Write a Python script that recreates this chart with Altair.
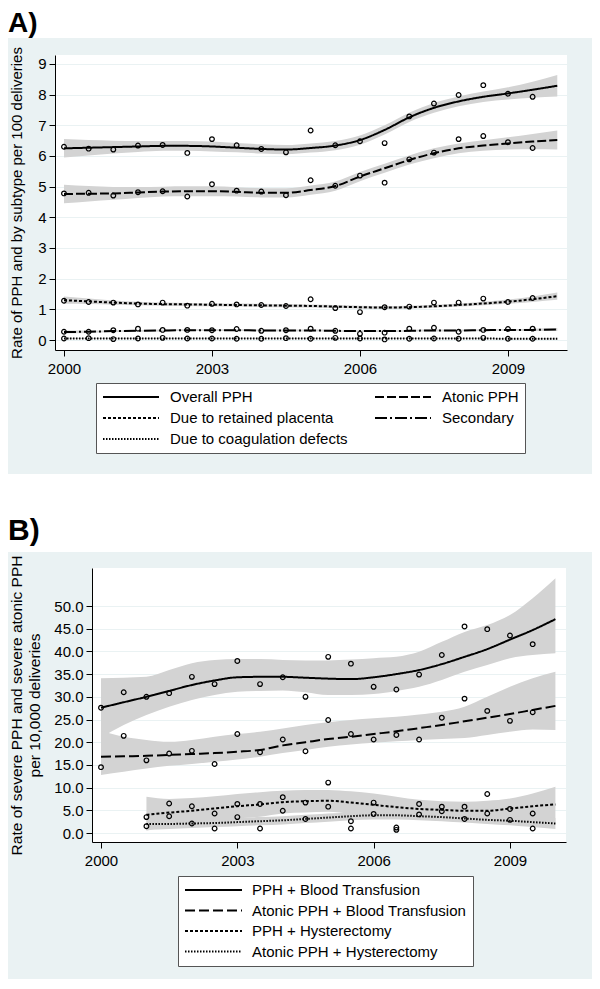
import altair as alt
import pandas as pd

FONT = "Liberation Sans"
BG = "#EAF2F3"
BAND = "#D3D3D3"

PANEL_TITLES = ["A)", "B)"]

# ---------------- Panel A ----------------
A_YTITLE = "Rate of PPH and by subtype per 100 deliveries"
# legend order (filled column by column): Overall, retained, coagulation | atonic, secondary
A_SERIES = ["Overall PPH", "Due to retained placenta", "Due to coagulation defects",
            "Atonic PPH", "Secondary"]
A_DASH = [[1, 0], [3, 2], [1.5, 1.5], [9, 3], [12, 3, 2, 3]]

A_PT_YEARS = [2000.0, 2000.5, 2001.0, 2001.5, 2002.0, 2002.5, 2003.0, 2003.5, 2004.0, 2004.5,
              2005.0, 2005.5, 2006.0, 2006.5, 2007.0, 2007.5, 2008.0, 2008.5, 2009.0, 2009.5]
A_FIT_YEARS = [2000.0, 2000.5, 2001.0, 2001.5, 2002.0, 2002.5, 2003.0, 2003.5, 2004.0, 2004.5,
               2005.0, 2005.5, 2006.0, 2006.5, 2007.0, 2007.5, 2008.0, 2008.5, 2009.0, 2009.5, 2010.0]

overall_pts = [6.30, 6.24, 6.21, 6.34, 6.36, 6.10, 6.55, 6.35, 6.23, 6.12,
               6.83, 6.35, 6.48, 6.42, 7.29, 7.71, 7.99, 8.31, 8.03, 7.93]
atonic_pts = [4.78, 4.80, 4.71, 4.82, 4.85, 4.68, 5.08, 4.87, 4.84, 4.72,
              5.21, 5.03, 5.36, 5.13, 5.89, 6.11, 6.55, 6.65, 6.45, 6.26]
retained_pts = [1.28, 1.24, 1.22, 1.16, 1.22, 1.12, 1.18, 1.16, 1.14, 1.11,
                1.33, 1.04, 0.91, 1.07, 1.09, 1.22, 1.22, 1.35, 1.24, 1.37]
secondary_pts = [0.27, 0.27, 0.32, 0.37, 0.33, 0.33, 0.32, 0.36, 0.30, 0.32,
                 0.37, 0.30, 0.20, 0.24, 0.37, 0.40, 0.27, 0.33, 0.36, 0.37]
coag_pts = [0.05, 0.06, 0.03, 0.05, 0.07, 0.05, 0.05, 0.04, 0.04, 0.06,
            0.04, 0.07, 0.05, 0.02, 0.04, 0.05, 0.04, 0.07, 0.04, 0.04]

overall_fit = [6.25, 6.27, 6.29, 6.31, 6.33, 6.33, 6.31, 6.27, 6.23, 6.21, 6.26,
               6.34, 6.52, 6.85, 7.26, 7.57, 7.78, 7.93, 8.04, 8.16, 8.29]
overall_hi = [6.55, 6.52, 6.50, 6.49, 6.49, 6.49, 6.47, 6.42, 6.38, 6.36, 6.41,
              6.49, 6.67, 7.00, 7.41, 7.73, 7.94, 8.10, 8.24, 8.42, 8.64]
overall_lo = [5.95, 6.02, 6.08, 6.13, 6.17, 6.17, 6.15, 6.12, 6.08, 6.06, 6.11,
              6.19, 6.37, 6.70, 7.11, 7.41, 7.62, 7.76, 7.84, 7.90, 7.94]
atonic_fit = [4.76, 4.77, 4.78, 4.81, 4.84, 4.85, 4.85, 4.83, 4.80, 4.80, 4.89,
              5.02, 5.33, 5.60, 5.87, 6.09, 6.25, 6.34, 6.41, 6.47, 6.52]
atonic_hi = [5.06, 5.02, 4.99, 4.99, 5.00, 5.01, 5.01, 4.98, 4.95, 4.95, 5.04,
             5.17, 5.48, 5.75, 6.02, 6.25, 6.41, 6.51, 6.61, 6.72, 6.83]
atonic_lo = [4.46, 4.52, 4.57, 4.63, 4.68, 4.69, 4.69, 4.68, 4.65, 4.65, 4.74,
             4.87, 5.18, 5.45, 5.72, 5.93, 6.09, 6.17, 6.21, 6.22, 6.21]
retained_fit = [1.30, 1.26, 1.22, 1.19, 1.17, 1.16, 1.15, 1.14, 1.13, 1.12, 1.11,
                1.09, 1.07, 1.06, 1.07, 1.10, 1.14, 1.19, 1.25, 1.33, 1.43]
retained_hi = [1.42, 1.35, 1.29, 1.25, 1.22, 1.21, 1.20, 1.19, 1.18, 1.17, 1.16,
               1.14, 1.12, 1.11, 1.12, 1.15, 1.19, 1.25, 1.32, 1.42, 1.55]
retained_lo = [1.18, 1.17, 1.15, 1.13, 1.12, 1.11, 1.10, 1.09, 1.08, 1.07, 1.06,
               1.04, 1.02, 1.01, 1.02, 1.05, 1.09, 1.13, 1.18, 1.24, 1.31]
secondary_fit = [0.26, 0.27, 0.29, 0.30, 0.31, 0.32, 0.32, 0.32, 0.31, 0.31, 0.31,
                 0.30, 0.29, 0.29, 0.30, 0.31, 0.31, 0.32, 0.33, 0.33, 0.34]
secondary_hi = [0.31, 0.31, 0.32, 0.33, 0.34, 0.35, 0.35, 0.35, 0.34, 0.34, 0.34,
                0.33, 0.32, 0.32, 0.33, 0.34, 0.34, 0.35, 0.36, 0.37, 0.39]
secondary_lo = [0.21, 0.23, 0.26, 0.27, 0.28, 0.29, 0.29, 0.29, 0.28, 0.28, 0.28,
                0.27, 0.26, 0.26, 0.27, 0.28, 0.28, 0.29, 0.30, 0.29, 0.29]
coag_fit = [0.05, 0.05, 0.05, 0.05, 0.05, 0.05, 0.05, 0.05, 0.05, 0.05, 0.05,
            0.05, 0.05, 0.05, 0.05, 0.05, 0.05, 0.05, 0.04, 0.04, 0.04]
coag_hi = [0.08, 0.07, 0.07, 0.07, 0.07, 0.07, 0.07, 0.07, 0.07, 0.07, 0.07,
           0.07, 0.07, 0.07, 0.07, 0.07, 0.07, 0.07, 0.06, 0.06, 0.07]
coag_lo = [0.02, 0.03, 0.03, 0.03, 0.03, 0.03, 0.03, 0.03, 0.03, 0.03, 0.03,
           0.03, 0.03, 0.03, 0.03, 0.03, 0.03, 0.03, 0.02, 0.02, 0.01]

# ---------------- Panel B ----------------
B_YTITLE = ["Rate of severe PPH and severe atonic PPH", "per 10,000 deliveries"]
B_SERIES = ["PPH + Blood Transfusion", "Atonic PPH + Blood Transfusion",
            "PPH + Hysterectomy", "Atonic PPH + Hysterectomy"]
B_DASH = [[1, 0], [10, 4], [3, 2], [1.5, 1.5]]

B_PT_YEARS = A_PT_YEARS
B_FIT_YEARS = A_FIT_YEARS
B_H_PT_YEARS = [2001.0, 2001.5, 2002.0, 2002.5, 2003.0, 2003.5, 2004.0, 2004.5, 2005.0,
                2005.5, 2006.0, 2006.5, 2007.0, 2007.5, 2008.0, 2008.5, 2009.0, 2009.5]
B_H_FIT_YEARS = [2001.0, 2001.5, 2002.0, 2002.5, 2003.0, 2003.5, 2004.0, 2004.5, 2005.0,
                 2005.5, 2006.0, 2006.5, 2007.0, 2007.5, 2008.0, 2008.5, 2009.0, 2009.5, 2010.0]

bt_pts = [27.6, 31.0, 30.0, 30.8, 34.4, 32.8, 37.9, 32.8, 34.3, 30.0,
          38.8, 37.3, 32.2, 31.6, 34.9, 39.2, 45.5, 44.9, 43.5, 41.6]
abt_pts = [14.5, 21.4, 16.0, 17.5, 18.1, 15.2, 21.8, 17.8, 20.6, 18.0,
           24.9, 21.8, 20.6, 21.6, 20.6, 25.4, 29.6, 26.9, 24.7, 26.6]
hyst_pts = [3.5, 6.5, 5.9, 4.3, 6.4, 6.4, 7.9, 6.7, 11.1,
            2.6, 6.7, 1.2, 6.4, 5.8, 5.8, 8.6, 5.3, 4.3]
ahyst_pts = [1.5, 3.7, 2.1, 1.0, 3.5, 1.0, 4.9, 3.1, 5.8,
             1.0, 4.2, 0.7, 4.1, 4.8, 3.1, 4.3, 2.9, 1.0]

bt_fit = [27.6, 28.8, 30.0, 31.3, 32.6, 33.6, 34.3, 34.4, 34.4, 34.2, 34.0,
          33.9, 34.3, 35.0, 35.9, 37.2, 38.8, 40.5, 42.6, 44.7, 47.1]
bt_hi = [34.1, 34.2, 34.4, 35.9, 37.4, 38.1, 38.3, 38.3, 38.1, 38.0, 38.0,
         38.2, 38.5, 38.8, 39.9, 42.1, 44.3, 45.8, 48.0, 51.7, 56.1]
bt_lo = [21.0, 23.8, 26.0, 27.8, 29.3, 30.4, 31.1, 31.3, 31.4, 31.0, 30.4,
         30.4, 30.6, 31.3, 32.2, 33.7, 35.5, 37.0, 38.5, 39.2, 39.6]
abt_fit = [16.8, 16.9, 17.0, 17.2, 17.4, 17.6, 17.9, 18.3, 19.3, 20.0, 20.7,
           21.2, 21.8, 22.4, 23.1, 23.8, 24.6, 25.4, 26.2, 27.1, 28.0]
abt_hi = [22.5, 21.2, 20.5, 20.1, 20.5, 21.2, 21.8, 22.3, 23.0, 23.8, 24.4,
          24.9, 25.3, 25.6, 26.1, 26.7, 27.8, 30.0, 32.2, 34.1, 35.5]
abt_lo = [12.8, 13.5, 14.2, 14.8, 15.2, 15.7, 16.2, 16.8, 17.6, 18.3, 19.0,
          19.5, 19.9, 20.2, 20.5, 20.7, 20.9, 21.6, 22.3, 22.8, 22.7]
hyst_fit = [4.0, 4.5, 4.9, 5.4, 5.9, 6.3, 6.8, 7.0, 7.1, 6.7,
            6.2, 5.7, 5.3, 5.1, 4.9, 4.9, 5.4, 5.9, 6.3]
hyst_hi = [8.0, 7.5, 7.7, 8.1, 8.6, 9.0, 9.3, 9.5, 9.5, 9.2,
           8.7, 8.0, 7.3, 7.0, 6.9, 7.1, 7.6, 8.7, 10.2]
hyst_lo = [0.5, 1.5, 2.1, 2.7, 3.2, 3.6, 4.3, 4.5, 4.7, 4.2,
           3.7, 3.4, 3.3, 3.2, 2.9, 2.7, 3.2, 3.1, 2.4]
ahyst_fit = [2.0, 2.0, 2.1, 2.2, 2.4, 2.6, 2.8, 3.1, 3.4, 3.7,
             3.9, 3.9, 3.7, 3.5, 3.2, 2.9, 2.7, 2.4, 2.1]
ahyst_hi = [3.3, 3.1, 3.1, 3.1, 3.3, 3.5, 3.7, 4.0, 4.3, 4.6,
            4.8, 4.8, 4.6, 4.4, 4.1, 3.8, 3.7, 3.5, 3.3]
ahyst_lo = [0.7, 0.9, 1.1, 1.3, 1.5, 1.7, 1.9, 2.2, 2.5, 2.8,
            3.0, 3.0, 2.8, 2.6, 2.3, 2.0, 1.7, 1.3, 0.9]

WHITE_VIEW = alt.ViewBackground(fill="white", strokeWidth=0)
TOTAL_W = 584


def pts_frame(items):
    rows = []
    for name, years, vals in items:
        for yr, v in zip(years, vals):
            rows.append({"series": name, "year": yr, "value": v})
    return pd.DataFrame(rows)


def fit_frame(items):
    rows = []
    for name, years, fit, lo, hi in items:
        for yr, f, l, h in zip(years, fit, lo, hi):
            rows.append({"series": name, "year": yr, "value": f, "lo": l, "hi": h})
    return pd.DataFrame(rows)


def panel(pts, fits, series, dashes, xdom, ydom, yvals, yfmt, ytitle, title_pad, title_size,
          width, height, legend):
    xs = alt.Scale(domain=xdom, nice=False, zero=False)
    ys = alt.Scale(domain=ydom, nice=False, zero=False)
    xaxis = alt.Axis(values=[2000, 2003, 2006, 2009], format="d", grid=False,
                     tickSize=6, labelPadding=5, title=None)
    yaxis = alt.Axis(values=yvals, format=yfmt, grid=True, tickSize=6, labelPadding=3,
                     title=ytitle, titlePadding=title_pad, titleLineHeight=18,
                     titleFontSize=title_size)
    band = alt.Chart(fits).mark_area(color=BAND, opacity=1, interpolate="monotone").encode(
        x=alt.X("year:Q", scale=xs, axis=xaxis),
        y=alt.Y("lo:Q", scale=ys, axis=yaxis),
        y2="hi:Q",
        detail="series:N",
    )
    line = alt.Chart(fits).mark_line(color="black", strokeWidth=2, interpolate="monotone").encode(
        x=alt.X("year:Q", scale=xs, axis=xaxis),
        y=alt.Y("value:Q", scale=ys, axis=yaxis),
        strokeDash=alt.StrokeDash("series:N", scale=alt.Scale(domain=series, range=dashes),
                                  legend=legend),
    )
    dots = alt.Chart(pts).mark_point(shape="circle", filled=False, size=22, strokeWidth=1.2,
                                     color="black", opacity=1).encode(
        x=alt.X("year:Q", scale=xs, axis=xaxis),
        y=alt.Y("value:Q", scale=ys, axis=yaxis),
    )
    return alt.layer(band, line, dots).properties(width=width, height=height, view=WHITE_VIEW)


def strip(label, height, baseline, size):
    df = pd.DataFrame({"t": [label]})
    return alt.Chart(df).mark_text(align="left", baseline="alphabetic", fontSize=size,
                                   fontWeight="bold", font=FONT, color="black").encode(
        text="t:N", x=alt.value(0), y=alt.value(baseline)
    ).properties(width=TOTAL_W, height=height, view=WHITE_VIEW)


def spacer():
    df = pd.DataFrame({"t": [""]})
    return alt.Chart(df).mark_text(opacity=0).encode(text="t:N").properties(width=1, height=1)


def make_legend(x, y, cols, size, offset, row_pad):
    # legend position is measured from the top-left corner of the panel block
    return alt.Legend(title=None, orient="none", legendX=x, legendY=y, columns=cols,
                      symbolType="stroke", symbolSize=size, symbolStrokeWidth=2,
                      symbolStrokeColor="black", labelFontSize=15, labelFont=FONT,
                      labelColor="black", labelOffset=offset, labelLimit=500,
                      fillColor="white", strokeColor="#555555", padding=6,
                      columnPadding=26, rowPadding=row_pad, clipHeight=16)


ptsA = pts_frame([
    ("Overall PPH", A_PT_YEARS, overall_pts), ("Atonic PPH", A_PT_YEARS, atonic_pts),
    ("Due to retained placenta", A_PT_YEARS, retained_pts),
    ("Secondary", A_PT_YEARS, secondary_pts),
    ("Due to coagulation defects", A_PT_YEARS, coag_pts)])
fitA = fit_frame([
    ("Overall PPH", A_FIT_YEARS, overall_fit, overall_lo, overall_hi),
    ("Atonic PPH", A_FIT_YEARS, atonic_fit, atonic_lo, atonic_hi),
    ("Due to retained placenta", A_FIT_YEARS, retained_fit, retained_lo, retained_hi),
    ("Secondary", A_FIT_YEARS, secondary_fit, secondary_lo, secondary_hi),
    ("Due to coagulation defects", A_FIT_YEARS, coag_fit, coag_lo, coag_hi)])

ptsB = pts_frame([
    (B_SERIES[0], B_PT_YEARS, bt_pts), (B_SERIES[1], B_PT_YEARS, abt_pts),
    (B_SERIES[2], B_H_PT_YEARS, hyst_pts), (B_SERIES[3], B_H_PT_YEARS, ahyst_pts)])
fitB = fit_frame([
    (B_SERIES[0], B_FIT_YEARS, bt_fit, bt_lo, bt_hi),
    (B_SERIES[1], B_FIT_YEARS, abt_fit, abt_lo, abt_hi),
    (B_SERIES[2], B_H_FIT_YEARS, hyst_fit, hyst_lo, hyst_hi),
    (B_SERIES[3], B_H_FIT_YEARS, ahyst_fit, ahyst_lo, ahyst_hi)])

panelA = panel(ptsA, fitA, A_SERIES, A_DASH, [1999.818, 2010.197], [-0.326, 9.293],
               list(range(10)), "d", A_YTITLE, 13, 15, 512, 295,
               make_legend(88, 375, 2, 3136, 10, 5))
panelB = panel(ptsB, fitB, B_SERIES, B_DASH, [1999.802, 2010.233], [-1.98, 58.37],
               [0, 5, 10, 15, 20, 25, 30, 35, 40, 45, 50], ".1f", B_YTITLE, 11, 15.5, 474, 274,
               make_legend(170, 402, 1, 3249, 9, 4.5))

rowA = alt.hconcat(spacer(), panelA, spacing=0)
rowB = alt.hconcat(spacer(), panelB, spacing=0)

topA = alt.vconcat(strip(PANEL_TITLES[0], 30, 24, 28), rowA, spacing=8)
topB = alt.vconcat(strip(PANEL_TITLES[1], 78, 66, 30), rowB, spacing=3)

chart = alt.vconcat(topA, topB, spacing=20).resolve_scale(
    strokeDash="independent", x="independent", y="independent"
).resolve_legend(strokeDash="independent").properties(
    background=BG,
    padding={"left": 0, "top": 0, "right": 0, "bottom": 12},
).configure_view(strokeWidth=0).configure_axis(
    labelFont=FONT, titleFont=FONT, labelFontSize=15, titleFontSize=15,
    titleFontWeight="normal", labelColor="black", titleColor="black",
    domainColor="black", tickColor="black", gridColor=BG, gridWidth=1,
)

chart.save("out.html", embed_options={"renderer": "svg", "actions": False})
